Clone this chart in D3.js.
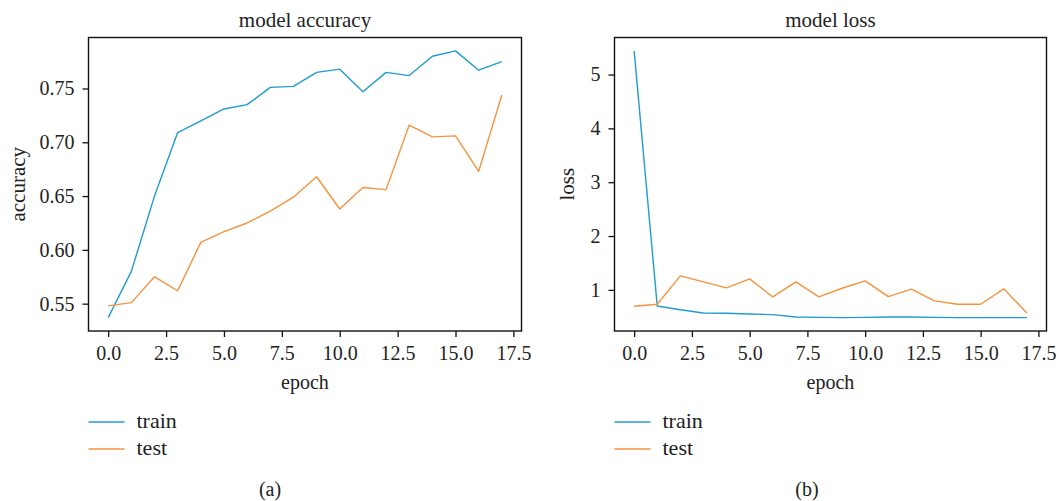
<!DOCTYPE html>
<html>
<head>
<meta charset="utf-8">
<script src="https://cdn.jsdelivr.net/npm/d3@7"></script>
<style>
  body { margin: 0; background: #fff; }
  svg text { font-family: 'Liberation Serif', 'Times New Roman', serif; fill: #222; }
</style>
</head>
<body>
<div class="container"></div>
<script>
// training history
var epochs = [0, 1, 2, 3, 4, 5, 6, 7, 8, 9, 10, 11, 12, 13, 14, 15, 16, 17];

var accTrain = [0.537, 0.580, 0.650, 0.709, 0.720, 0.731, 0.735, 0.751, 0.752, 0.765, 0.768, 0.747, 0.765, 0.762, 0.780, 0.785, 0.767, 0.775];
var accTest  = [0.548, 0.551, 0.575, 0.562, 0.607, 0.617, 0.625, 0.636, 0.649, 0.668, 0.638, 0.658, 0.656, 0.716, 0.705, 0.706, 0.673, 0.744];

var lossTrain = [5.44, 0.70, 0.63, 0.57, 0.565, 0.552, 0.54, 0.497, 0.49, 0.484, 0.49, 0.497, 0.497, 0.49, 0.484, 0.484, 0.484, 0.484];
var lossTest  = [0.696, 0.733, 1.261, 1.149, 1.037, 1.205, 0.869, 1.149, 0.869, 1.03, 1.168, 0.876, 1.013, 0.795, 0.733, 0.733, 1.019, 0.571];

var xTicks = [0, 2.5, 5, 7.5, 10, 12.5, 15, 17.5];
var accTicks = [0.55, 0.60, 0.65, 0.70, 0.75];
var lossTicks = [1, 2, 3, 4, 5];

var seriesNames = ["train", "test"];
var colors = ["#1f9ccf", "#f7923d"];

var width = 1059;
var height = 501;
var serif = "'Liberation Serif', 'Times New Roman', serif";

var svg = d3.select(".container")
    .append("svg")
    .attr("width", width)
    .attr("height", height)
    .attr("font-family", serif);

function drawPanel(p)
{
    var g = svg.append("g");

    // matplotlib style 5% margins around data
    var xPad = (d3.max(epochs) - d3.min(epochs)) * 0.05;
    var x = d3.scaleLinear()
        .domain([d3.min(epochs) - xPad, d3.max(epochs) + xPad])
        .range([p.left, p.right]);

    var all = p.series[0].concat(p.series[1]);
    var lo = d3.min(all), hi = d3.max(all);
    var yPad = (hi - lo) * 0.05;
    var y = d3.scaleLinear()
        .domain([lo - yPad, hi + yPad])
        .range([p.bottom, p.top]);

    var line = d3.line()
        .x(function(d, i) { return x(epochs[i]); })
        .y(function(d) { return y(d); });

    p.series.forEach(function(s, i)
    {
        g.append("path")
            .datum(s)
            .attr("fill", "none")
            .attr("stroke", colors[i])
            .attr("stroke-width", 1.4)
            .attr("stroke-linejoin", "round")
            .attr("d", line);
    });

    // frame
    g.append("rect")
        .attr("x", p.left)
        .attr("y", p.top)
        .attr("width", p.right - p.left)
        .attr("height", p.bottom - p.top)
        .attr("fill", "none")
        .attr("stroke", "#111")
        .attr("stroke-width", 1.4);

    var xAxis = g.append("g")
        .attr("transform", "translate(0," + p.bottom + ")")
        .call(d3.axisBottom(x).tickValues(xTicks).tickSize(6).tickPadding(9)
            .tickFormat(d3.format(".1f")));

    var yAxis = g.append("g")
        .attr("transform", "translate(" + p.left + ",0)")
        .call(d3.axisLeft(y).tickValues(p.yTicks).tickSize(6).tickPadding(8)
            .tickFormat(p.yFormat));

    [xAxis, yAxis].forEach(function(a)
    {
        a.attr("font-family", serif).attr("font-size", 20);
        a.select(".domain").remove();
        a.selectAll(".tick line").attr("stroke", "#111").attr("stroke-width", 1.3);
        a.selectAll(".tick text").attr("fill", "#222");
    });

    var cx = (p.left + p.right) / 2;

    g.append("text")
        .attr("x", cx)
        .attr("y", 27)
        .attr("text-anchor", "middle")
        .attr("font-size", 21)
        .text(p.title);

    g.append("text")
        .attr("x", cx)
        .attr("y", 389)
        .attr("text-anchor", "middle")
        .attr("font-size", 20)
        .text("epoch");

    g.append("text")
        .attr("transform", "translate(" + p.yLabelX + "," + ((p.top + p.bottom) / 2) + ") rotate(-90)")
        .attr("text-anchor", "middle")
        .attr("font-size", 21)
        .text(p.yLabel);

    // legend below the axes
    seriesNames.forEach(function(name, i)
    {
        var ly = 422 + i * 27;
        g.append("line")
            .attr("x1", p.left)
            .attr("x2", p.left + 36)
            .attr("y1", ly)
            .attr("y2", ly)
            .attr("stroke", colors[i])
            .attr("stroke-width", 1.4);
        g.append("text")
            .attr("x", p.left + 48)
            .attr("y", ly + 6)
            .attr("font-size", 22)
            .text(name);
    });

    g.append("text")
        .attr("x", p.capX)
        .attr("y", 496)
        .attr("text-anchor", "middle")
        .attr("font-size", 20)
        .text(p.caption);
}

drawPanel({
    left: 88.5, right: 521.5, top: 37.5, bottom: 331,
    series: [accTrain, accTest],
    yTicks: accTicks,
    yFormat: d3.format(".2f"),
    title: "model accuracy",
    yLabel: "accuracy",
    yLabelX: 25,
    caption: "(a)",
    capX: 270
});

drawPanel({
    left: 614.5, right: 1046.5, top: 37.5, bottom: 331,
    series: [lossTrain, lossTest],
    yTicks: lossTicks,
    yFormat: d3.format("d"),
    title: "model loss",
    yLabel: "loss",
    yLabelX: 574,
    caption: "(b)",
    capX: 807
});
</script>
</body>
</html>
